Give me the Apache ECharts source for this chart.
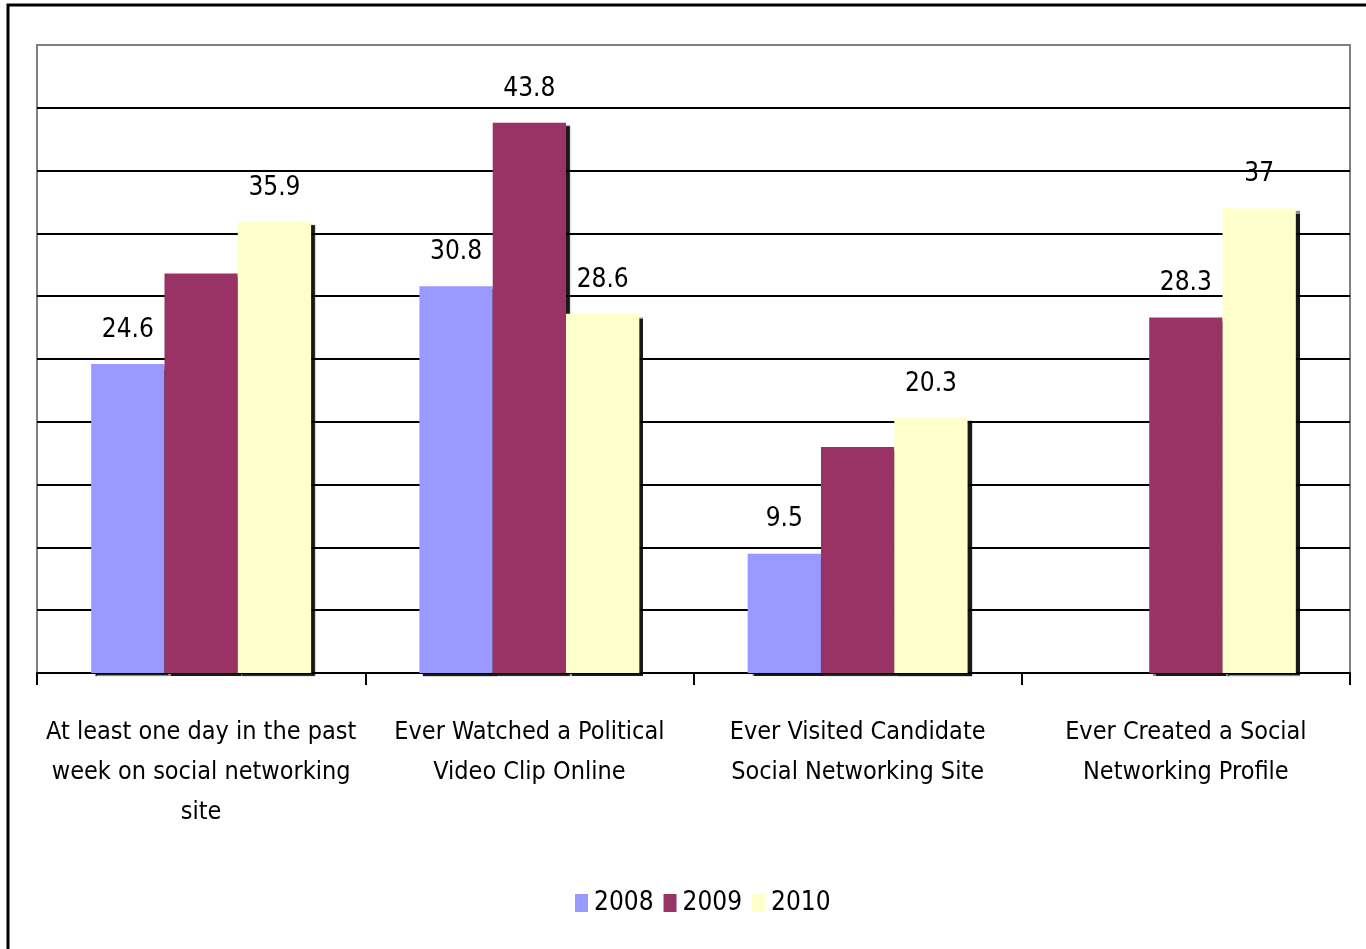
<!DOCTYPE html>
<html>
<head>
<meta charset="utf-8">
<script src="https://cdn.jsdelivr.net/npm/echarts@6/dist/echarts.min.js"></script>
<style>
  html, body { margin: 0; padding: 0; background: #fff; }
  #chart { width: 1366px; height: 949px; }
</style>
</head>
<body>
<div id="chart"></div>
<script>
// categories (line breaks as in the picture)
const categories = [
  'At least one day in the past\nweek on social networking\nsite',
  'Ever Watched a Political\nVideo Clip Online',
  'Ever Visited Candidate\nSocial Networking Site',
  'Ever Created a Social\nNetworking Profile'
]
const years = ['2008', '2009', '2010']
const values2008 = [24.6, 30.8, 9.5, null]
const values2009 = [31.8, 43.8, 18.0, 28.3]
const values2010 = [35.9, 28.6, 20.3, 37]
// which bars carry a value label in the picture
const show2008 = [true, true, true, false]
const show2009 = [false, true, false, true]
const show2010 = [true, true, true, true]
const colors = ['#9999ff', '#993366', '#ffffcc']

const font = '"DejaVu Sans Condensed", "DejaVu Sans", sans-serif'

function makeSeries(name, vals, shows, color) {
  return {
    name: name,
    type: 'bar',
    barGap: 0,
    barCategoryGap: '33%',
    data: vals.map((v, i) => ({
      value: v,
      label: { show: shows[i] }
    })),
    itemStyle: {
      color: color,
      shadowColor: 'rgba(0,0,0,0.9)',
      shadowBlur: 1,
      shadowOffsetX: 4,
      shadowOffsetY: 3
    },
    label: {
      position: 'top',
      distance: 21,
      color: '#000',
      fontFamily: font,
      fontSize: 26
    }
  }
}

const chart = echarts.init(document.getElementById('chart'))
const gridColors = ['#000', '#000', '#000', '#000', '#000', '#000', '#000', '#000', '#000', '#000', '#808080']

chart.setOption({
  animation: false,
  color: colors,
  textStyle: { fontFamily: font },
  graphic: [{
    type: 'rect',
    shape: { x: 8, y: 5, width: 1400, height: 1000 },
    style: { fill: 'none', stroke: '#000', lineWidth: 3 }
  }],
  grid: {
    left: 37, right: 16, top: 45, bottom: 276,
    show: true,
    borderColor: '#808080',
    borderWidth: 2
  },
  legend: {
    bottom: 28,
    left: 570,
    itemWidth: 13,
    itemHeight: 18,
    itemGap: 10,
    icon: 'rect',
    data: years,
    textStyle: { fontFamily: font, fontSize: 26, color: '#000', padding: [0, 0, 0, 1] }
  },
  xAxis: {
    type: 'category',
    data: categories,
    axisLine: { lineStyle: { color: '#000', width: 2 } },
    axisTick: { show: true, length: 12, lineStyle: { color: '#000', width: 2 } },
    axisLabel: {
      interval: 0,
      margin: 39,
      color: '#000',
      fontFamily: font,
      fontSize: 25,
      lineHeight: 40
    }
  },
  yAxis: {
    type: 'value',
    min: 0,
    max: 50,
    interval: 5,
    axisLabel: { show: false },
    axisLine: { show: false },
    axisTick: { show: false },
    splitLine: { lineStyle: { color: gridColors, width: 2 } }
  },
  series: [
    makeSeries(years[0], values2008, show2008, colors[0]),
    makeSeries(years[1], values2009, show2009, colors[1]),
    makeSeries(years[2], values2010, show2010, colors[2])
  ]
})
</script>
</body>
</html>
